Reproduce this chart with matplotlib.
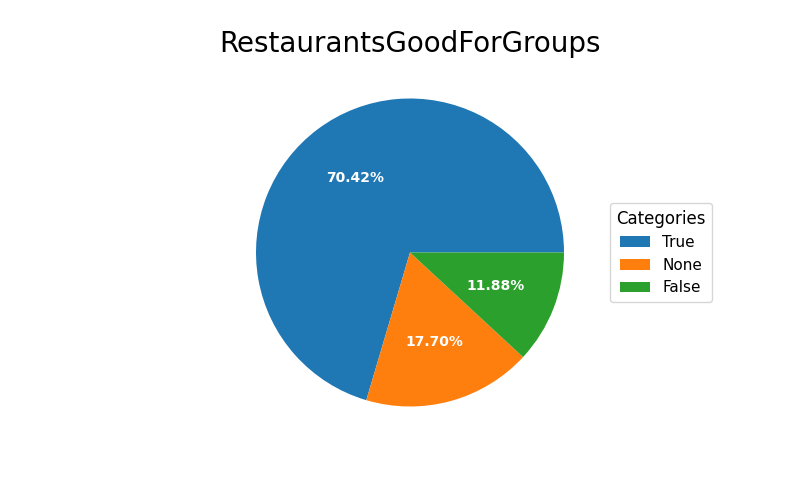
import matplotlib
matplotlib.use("Agg")
import matplotlib.pyplot as plt

# Category shares (percent)
categories = ["True", "None", "False"]
shares = [70.42, 17.70, 11.88]
colors = ["#1f77b4", "#ff7f0e", "#2ca02c"]

fig, ax = plt.subplots(figsize=(8, 5), dpi=100)
wedges, texts, autotexts = ax.pie(shares, colors=colors, autopct="%1.2f%%",
                                  textprops=dict(color="white"))
plt.setp(autotexts, size=10, weight="bold")

ax.legend(wedges, categories, title="Categories", loc="center left",
          bbox_to_anchor=(1, 0, 0.5, 1), fontsize=11, title_fontsize=12)
ax.set_title("RestaurantsGoodForGroups", fontsize=20)

plt.savefig("out.png")
